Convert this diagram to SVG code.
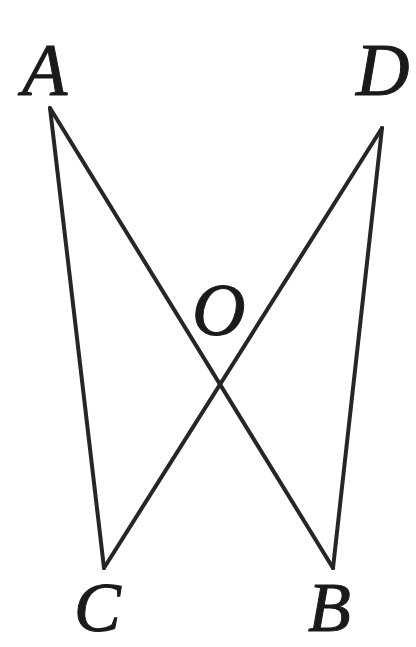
<svg xmlns="http://www.w3.org/2000/svg" width="416" height="647" viewBox="0 0 416 647">
<style>
.e{stroke:#262626;stroke-width:4;fill:none;stroke-linecap:round}
.l{font-family:"Liberation Serif","Times New Roman",serif;font-style:italic;font-size:74px;fill:#1a1a1a;stroke:#1a1a1a;stroke-width:1}
.s{font-size:70px}
</style>
<rect width="416" height="647" fill="#ffffff"/>
<g id="edges">
<line class="e" x1="50" y1="108" x2="104" y2="568"/>
<line class="e" x1="50" y1="108" x2="333" y2="568"/>
<line class="e" x1="382" y1="128" x2="104" y2="568"/>
<line class="e" x1="382" y1="128" x2="333" y2="568"/>
</g>
<g id="A"><text class="l" x="22" y="95">A</text></g>
<g id="D"><text class="l" x="356" y="95">D</text></g>
<g id="O"><text class="l" x="192" y="335">O</text></g>
<g id="C"><text class="l s" x="74" y="631">C</text></g>
<g id="B"><text class="l s" x="308" y="631">B</text></g>
</svg>
